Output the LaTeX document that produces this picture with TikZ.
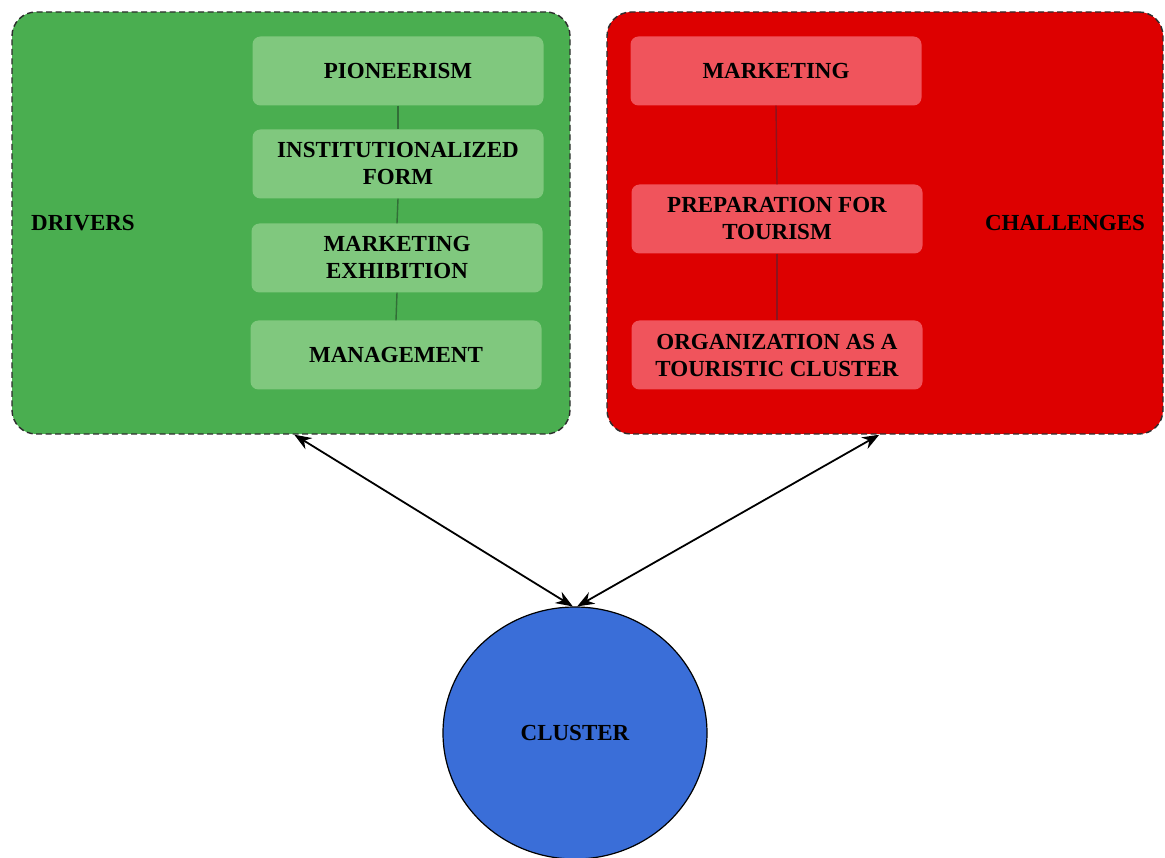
\documentclass[tikz,border=0pt]{standalone}
\usepackage{fontspec}
\setmainfont{Liberation Serif}
\usetikzlibrary{arrows.meta,shapes.geometric}
\definecolor{drvgreen}{RGB}{74,174,80}
\definecolor{drvlight}{RGB}{128,200,126}
\definecolor{drvline}{RGB}{50,110,55}
\definecolor{chlred}{RGB}{221,0,0}
\definecolor{chllight}{RGB}{240,84,92}
\definecolor{chlline}{RGB}{140,20,30}
\definecolor{clblue}{RGB}{58,110,216}
\definecolor{panelborder}{RGB}{45,45,45}
\tikzset{
  lbl/.style={font=\bfseries\fontsize{23}{27}\selectfont, text=black, align=center},
  panel/.style={draw=panelborder, line width=1.4pt, dash pattern=on 6pt off 3.5pt,
    rounded corners=24pt, minimum height=422pt, inner sep=0pt},
  item/.style={lbl, rounded corners=8pt, minimum width=291pt, minimum height=69pt, inner sep=0pt},
  drvitem/.style={item, fill=drvlight},
  chlitem/.style={item, fill=chllight},
  link/.style={line width=1.4pt},
  twoway/.style={line width=1.8pt, {Stealth[length=17pt,width=13pt]}-{Stealth[length=17pt,width=13pt]}}
}
\begin{document}
\begin{tikzpicture}[x=1pt,y=-1pt]
\useasboundingbox (0,0) rectangle (1165,858);

% panels
\node[panel, fill=drvgreen, minimum width=558pt] (drv) at (291,223) {};
\node[panel, fill=chlred, minimum width=556pt] (chl) at (885,223) {};

% panel titles
\node[lbl] (drvtitle) at (83,223) {DRIVERS};
\node[lbl] (chltitle) at (1065,223) {CHALLENGES};

% drivers column
\node[drvitem] (d1) at (398,71) {PIONEERISM};
\node[drvitem] (d2) at (398,164) {INSTITUTIONALIZED\\FORM};
\node[drvitem] (d3) at (397,258) {MARKETING\\EXHIBITION};
\node[drvitem] (d4) at (396,355) {MANAGEMENT};
\draw[link, drvline] (d1.south) -- (d2.north);
\draw[link, drvline] (d2.south) -- (d3.north);
\draw[link, drvline] (d3.south) -- (d4.north);

% challenges column
\node[chlitem] (c1) at (776,71) {MARKETING};
\node[chlitem] (c2) at (777,219) {PREPARATION FOR\\TOURISM};
\node[chlitem] (c3) at (777,355) {ORGANIZATION AS A\\TOURISTIC CLUSTER};
\draw[link, chlline] (c1.south) -- (c2.north);
\draw[link, chlline] (c2.south) -- (c3.north);

% cluster
\node[ellipse, draw=black, line width=1.2pt, fill=clblue, minimum width=264pt,
  minimum height=252pt, inner sep=0pt, lbl] (cl) at (575,733) {CLUSTER};

% two-way links between the panels and the cluster
\path (drv.south west) ++(283,0) coordinate (da);
\path (chl.south west) ++(273,0) coordinate (ca);
\draw[twoway] (da) -- (cl.91);
\draw[twoway] (ca) -- (cl.89);
\end{tikzpicture}
\end{document}
